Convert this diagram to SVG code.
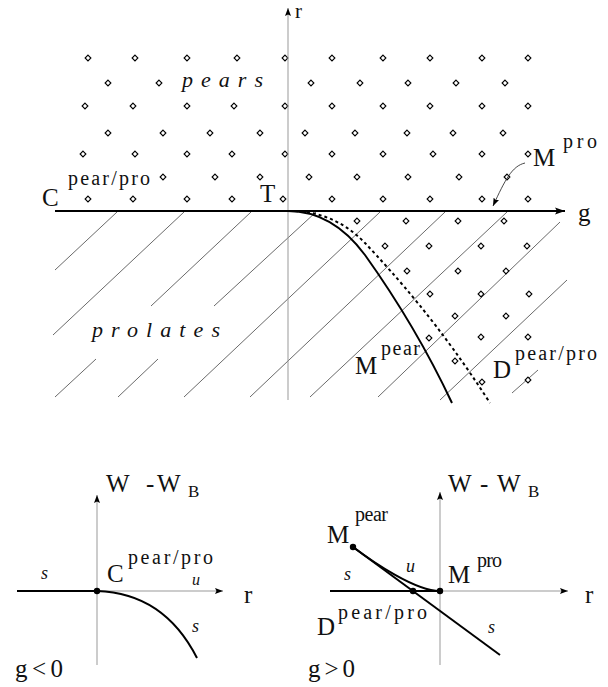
<svg xmlns="http://www.w3.org/2000/svg" xmlns:xlink="http://www.w3.org/1999/xlink" width="608" height="687" viewBox="0 0 608 687">
<style>
text{font-family:"Liberation Serif","Times New Roman",serif;fill:#111}
.big{font-size:25px}
.sup{font-size:20px}
.it{font-style:italic;font-size:22px}
.lab{font-style:italic;font-size:18px}
.sub{font-size:17px}
.hatch{stroke:#444;stroke-width:0.8;fill:none}
.thin{stroke:#999;stroke-width:1;fill:none}
.thick{stroke:#000;stroke-width:2.2;fill:none}
.curve{stroke:#000;stroke-width:2;fill:none}
.dotc{stroke:#000;stroke-width:2;fill:none;stroke-dasharray:3 3}
.dm{fill:#fff;stroke:#000;stroke-width:1.1}
</style>
<defs>
<path id="dm" class="dm" d="M0,-2.9 L2.9,0 L0,2.9 L-2.9,0Z"/>
<marker id="ah" viewBox="0 0 10 8" refX="10" refY="4" markerWidth="10" markerHeight="8" markerUnits="userSpaceOnUse" orient="auto">
<path d="M0,0.5 L10,4 L0,7.5 L2,4Z" fill="#000"/>
</marker>
<marker id="ahs" viewBox="0 0 8 6" refX="8" refY="3" markerWidth="8" markerHeight="6" markerUnits="userSpaceOnUse" orient="auto">
<path d="M0,0 L8,3 L0,6 L1.5,3Z" fill="#000"/>
</marker>
</defs>

<g id="hatching">
<line class="hatch" x1="117" y1="212" x2="55" y2="270"/>
<line class="hatch" x1="184" y1="212" x2="53" y2="335"/>
<line class="hatch" x1="251" y1="212" x2="151" y2="306"/>
<line class="hatch" x1="96" y1="359" x2="55" y2="397"/>
<line class="hatch" x1="316" y1="212" x2="214" y2="306"/>
<line class="hatch" x1="158" y1="359" x2="118" y2="397"/>
<line class="hatch" x1="380" y1="212" x2="184" y2="397"/>
<line class="hatch" x1="445" y1="212" x2="250" y2="397"/>
<line class="hatch" x1="507" y1="212" x2="310" y2="397"/>
<line class="hatch" x1="560" y1="222" x2="378" y2="397"/>
<line class="hatch" x1="567" y1="280" x2="440" y2="400"/>
<line class="hatch" x1="538" y1="370" x2="512" y2="393"/>
</g>

<g id="dots">
<use xlink:href="#dm" x="88" y="58"/><use xlink:href="#dm" x="135" y="58"/><use xlink:href="#dm" x="187" y="58"/><use xlink:href="#dm" x="237" y="58"/><use xlink:href="#dm" x="285" y="58"/><use xlink:href="#dm" x="332" y="58"/><use xlink:href="#dm" x="383" y="58"/><use xlink:href="#dm" x="430" y="58"/><use xlink:href="#dm" x="482" y="58"/><use xlink:href="#dm" x="528" y="58"/>
<use xlink:href="#dm" x="108" y="83"/><use xlink:href="#dm" x="159" y="83"/><use xlink:href="#dm" x="311" y="83"/><use xlink:href="#dm" x="360" y="83"/><use xlink:href="#dm" x="408" y="83"/><use xlink:href="#dm" x="456" y="83"/><use xlink:href="#dm" x="505" y="83"/>
<use xlink:href="#dm" x="85" y="106"/><use xlink:href="#dm" x="133" y="106"/><use xlink:href="#dm" x="187" y="106"/><use xlink:href="#dm" x="234" y="106"/><use xlink:href="#dm" x="285" y="106"/><use xlink:href="#dm" x="332" y="106"/><use xlink:href="#dm" x="383" y="106"/><use xlink:href="#dm" x="430" y="106"/><use xlink:href="#dm" x="482" y="106"/><use xlink:href="#dm" x="528" y="106"/>
<use xlink:href="#dm" x="108" y="133"/><use xlink:href="#dm" x="163" y="133"/><use xlink:href="#dm" x="210" y="133"/><use xlink:href="#dm" x="260" y="133"/><use xlink:href="#dm" x="305" y="133"/><use xlink:href="#dm" x="355" y="133"/><use xlink:href="#dm" x="407" y="133"/><use xlink:href="#dm" x="453" y="133"/><use xlink:href="#dm" x="503" y="133"/>
<use xlink:href="#dm" x="83" y="154"/><use xlink:href="#dm" x="135" y="154"/><use xlink:href="#dm" x="187" y="154"/><use xlink:href="#dm" x="232" y="154"/><use xlink:href="#dm" x="285" y="154"/><use xlink:href="#dm" x="332" y="154"/><use xlink:href="#dm" x="383" y="154"/><use xlink:href="#dm" x="433" y="154"/><use xlink:href="#dm" x="482" y="154"/><use xlink:href="#dm" x="528" y="154"/>
<use xlink:href="#dm" x="163" y="177"/><use xlink:href="#dm" x="215" y="177"/><use xlink:href="#dm" x="260" y="177"/><use xlink:href="#dm" x="309" y="177"/><use xlink:href="#dm" x="357" y="177"/><use xlink:href="#dm" x="408" y="177"/><use xlink:href="#dm" x="459" y="177"/><use xlink:href="#dm" x="507" y="177"/>
<use xlink:href="#dm" x="88" y="199"/><use xlink:href="#dm" x="133" y="199"/><use xlink:href="#dm" x="187" y="199"/><use xlink:href="#dm" x="232" y="199"/><use xlink:href="#dm" x="283" y="199"/><use xlink:href="#dm" x="332" y="199"/><use xlink:href="#dm" x="383" y="199"/><use xlink:href="#dm" x="430" y="199"/><use xlink:href="#dm" x="482" y="199"/><use xlink:href="#dm" x="528" y="199"/>
<use xlink:href="#dm" x="357" y="221"/><use xlink:href="#dm" x="406" y="221"/><use xlink:href="#dm" x="458" y="221"/><use xlink:href="#dm" x="504" y="221"/>
<use xlink:href="#dm" x="385" y="246"/><use xlink:href="#dm" x="429" y="246"/><use xlink:href="#dm" x="481" y="246"/><use xlink:href="#dm" x="527" y="246"/>
<use xlink:href="#dm" x="407" y="271"/><use xlink:href="#dm" x="458" y="271"/><use xlink:href="#dm" x="506" y="271"/>
<use xlink:href="#dm" x="430" y="294"/><use xlink:href="#dm" x="481" y="294"/><use xlink:href="#dm" x="529" y="294"/>
<use xlink:href="#dm" x="455" y="316"/><use xlink:href="#dm" x="506" y="316"/>
<use xlink:href="#dm" x="429" y="338"/><use xlink:href="#dm" x="481" y="337"/><use xlink:href="#dm" x="528" y="337"/>
<use xlink:href="#dm" x="455" y="361"/>
<use xlink:href="#dm" x="482" y="382"/><use xlink:href="#dm" x="528" y="380"/>
</g>

<g id="connectors">
<line class="thin" x1="288" y1="400" x2="288" y2="8" marker-end="url(#ahs)"/>
<line class="thick" x1="55" y1="211" x2="565" y2="211" marker-end="url(#ah)"/>
<path class="curve" d="M288,211 C320,211 345,228 365,255 C385,283 420,335 452,403"/>
<path class="dotc" d="M295,211 C320,212 345,222 365,243 C395,275 440,325 490,403"/>
<path d="M525,163 C512,166 505,180 493,206" fill="none" stroke="#333" stroke-width="0.9" marker-end="url(#ahs)"/>

<line class="thin" x1="97" y1="665" x2="97" y2="495" marker-end="url(#ahs)"/>
<line class="thin" x1="97" y1="591" x2="223" y2="591" marker-end="url(#ahs)"/>
<line class="thick" x1="17" y1="591" x2="97" y2="591"/>
<path class="curve" d="M97,591 C130,592 170,605 197,658"/>

<line class="thin" x1="440" y1="665" x2="440" y2="492" marker-end="url(#ahs)"/>
<line class="thin" x1="440" y1="591" x2="568" y2="591" marker-end="url(#ahs)"/>
<line class="thick" x1="330" y1="591" x2="440" y2="591"/>
<line class="curve" x1="353" y1="547" x2="500" y2="655"/>
<path class="curve" stroke-width="1.6" d="M353,547 C373,562 415,591 440,591"/>
</g>

<g id="points">
<circle cx="97" cy="591" r="3.2" fill="#000"/>
<circle cx="440" cy="591" r="3.2" fill="#000"/>
<circle cx="413" cy="591" r="3.2" fill="#000"/>
<circle cx="353" cy="547" r="3.2" fill="#000"/>
</g>

<g id="labels-top">
<text x="295" y="18" style="font-size:21px">r</text>
<text class="it" x="182" y="87" textLength="81" lengthAdjust="spacing">pears</text>
<text class="big" x="42" y="206">C</text>
<text class="sup" x="68" y="185" textLength="82" lengthAdjust="spacing">pear/pro</text>
<text class="big" x="260" y="202">T</text>
<text class="big" x="533" y="166">M</text>
<text class="sup" x="563" y="148" textLength="34" lengthAdjust="spacing">pro</text>
<text class="big" x="578" y="221">g</text>
<text class="it" x="92" y="337" textLength="128" lengthAdjust="spacing">prolates</text>
<text class="big" x="355" y="374">M</text>
<text class="sup" x="381" y="355" textLength="39" lengthAdjust="spacing">pear</text>
<text class="big" x="493" y="378">D</text>
<text class="sup" x="515" y="360" textLength="82" lengthAdjust="spacing">pear/pro</text>
</g>

<g id="labels-left">
<text class="big" x="106" y="492">W</text>
<text class="big" x="146" y="492">-</text>
<text class="big" x="157" y="492">W</text>
<text class="sub" x="188" y="497">B</text>
<text class="big" x="107" y="582">C</text>
<text class="sup" x="128" y="564" textLength="85" lengthAdjust="spacing">pear/pro</text>
<text class="lab" x="41" y="579">s</text>
<text class="lab" x="192" y="585" style="font-size:16px">u</text>
<text class="lab" x="192" y="632">s</text>
<text class="big" x="244" y="603">r</text>
<text class="big" x="15" y="677" textLength="48" lengthAdjust="spacing">g&lt;0</text>
</g>

<g id="labels-right">
<text class="big" x="448" y="492">W</text>
<text class="big" x="480" y="492">-</text>
<text class="big" x="497" y="492">W</text>
<text class="sub" x="528" y="497">B</text>
<text class="big" x="327" y="543">M</text>
<text class="sup" x="355" y="521" textLength="33" lengthAdjust="spacing">pear</text>
<text class="lab" x="406" y="572">u</text>
<text class="lab" x="344" y="580">s</text>
<text class="big" x="448" y="583">M</text>
<text class="sup" x="477" y="567" textLength="25" lengthAdjust="spacing">pro</text>
<text class="big" x="585" y="603">r</text>
<text class="big" x="317" y="635">D</text>
<text class="sup" x="338" y="619" textLength="89" lengthAdjust="spacing">pear/pro</text>
<text class="lab" x="488" y="633">s</text>
<text class="big" x="308" y="677" textLength="47" lengthAdjust="spacing">g&gt;0</text>
</g>
</svg>
